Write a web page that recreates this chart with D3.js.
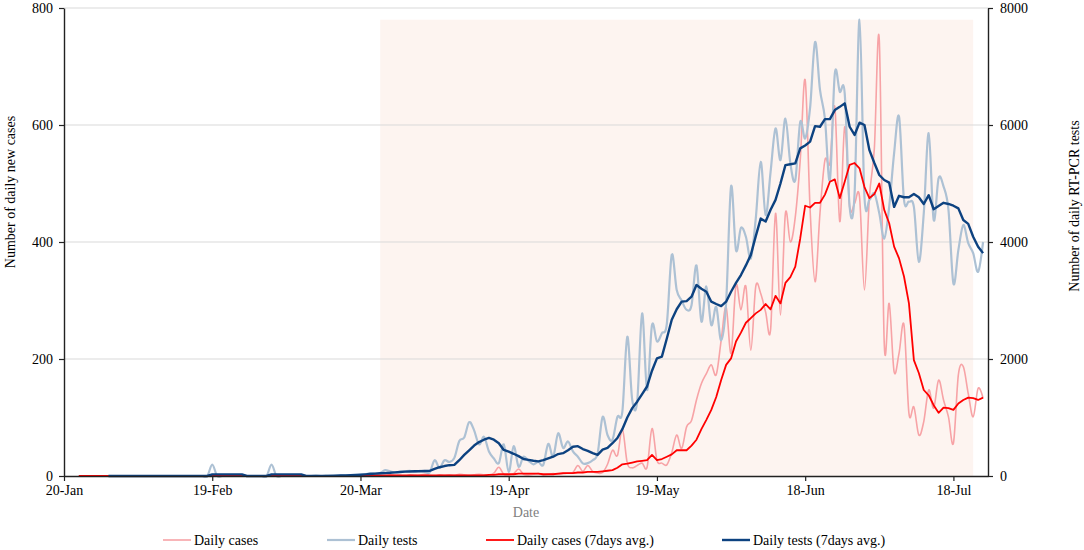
<!DOCTYPE html>
<html>
<head>
<meta charset="utf-8">
<script src="https://cdn.jsdelivr.net/npm/d3@7"></script>
<style>
  body { margin: 0; background: #fff; }
  svg { font-family: "Liberation Serif", "Times New Roman", serif; }
</style>
</head>
<body>
<script>
// Series start on 23-Jan-2020, one value per day up to 24-Jul-2020
const startDay = new Date(2020, 0, 23);
const endDay = new Date(2020, 6, 24);

const dailyCases = [
  // 23-Jan .. 20-Mar
  0,0,0,0,0,0,0,0,0,0, 0,0,0,0,0,0,0,0,0,0, 0,0,0,0,0,0,0,0,0,0,
  0,0,0,0,0,0,0,0,0,0, 0,0,0,0,0,0,0,0,0,0, 0,0,0,0,0,0,0,
  // 20-Mar ..
  1,0,1,2,1,0,2,1,1,0, 2,1,1,3,1,0,2,1,2,1, 3,2,1,2,3,2,
  2,5,15,3,2,4,12,3,2,3, 4,2,3,4,3,4,5,6,18,8,
  18,8,5,6,20,44,35,80,22,14, 18,22,15,81,27,22,19,40,70,47,
  84,95,130,158,175,190,173,232,289,210, 326,284,324,215,324,312,280,250,449,275,
  449,400,443,540,677,455,332,450,540,535, 631,435,597,460,466,477,318,477,560,745,
  227,295,178,210,258,107,118,70,93,147, 116,164,130,101,56,173,187,141,101,150,
  133
];

const dailyTests = [
  0,0,0,0,0,0,0,0,0,0, 0,0,0,0,0,0,0,0,0,0, 0,0,0,0,0,0,0,
  195,0,0,0,0,0,0,0,0,0, 0,0,
  195,0,0,0,0,5,0,0,0,5, 0,5,10,5,10,10,15,15,
  20,30,50,40,50,100,80,60,70,80, 90,70,90,70,60,270,140,270,240,310,
  600,660,920,780,540,670,420,300,220,540, 70,510,160,330,260,200,240,190,550,330,
  730,480,590,420,330,215,220,270,390,1010, 700,620,1010,1100,2380,1300,1270,2780,1470,2580,
  2300,2440,2600,3780,3180,3000,2840,2920,3600,2640, 3240,2580,2890,2320,2960,4950,3860,4240,4090,3720,
  4400,5370,4460,5200,5940,5400,6110,5345,5060,6050, 5770,6300,7420,6600,6110,5060,6880,6570,6540,4600,
  4830,7800,4770,4720,4830,4490,4060,4600,5520,6140, 4720,4690,4600,3660,4490,5860,4380,5090,4950,4550,
  3290,3860,4290,3980,3810,3490,4000
];

const casesAvg = [
  0,0,0,0,0,0,0,0,0,0, 0,0,0,0,0,0,0,0,0,0, 0,0,0,0,0,0,0,
  1,1,1,1,1,1,1, 0,0,0,0,0, 1,1,1,1,1,1,1, 0,0,0,0,0,0,0,0,0,0,0,
  1,1,1,1,1,1,1,1,1,1, 1,1,1,1,1,1,1,1,1,1, 1,1,1,1,1,1,
  2,2,3,3,3,3,4,4,4,4, 4,3,3,3,
  4,5,5,5,6,6,7,7,7,8, 9,10,14,20,21,23,25,26,27,36,
  27,29,33,37,44,44,44,52,62,80, 96,113,135,164,190,201,230,245,262,270,
  278,284,294,285,308,295,330,340,358,406, 462,459,467,467,481,503,507,475,503,532,
  535,526,494,475,482,500,455,432,392,372, 341,295,198,176,147,138,121,108,117,116,
  113,124,130,134,133,130,134
];

const testsAvg = [
  null,null,null,null,null,null,
  0,0,0,0,0,0,0,0,0,0, 0,0,0,0,0,0,0,0,0,0, 0,
  28,28,28,28,28,28,28, 0,0,0,0,0, 28,28,28,28,28,28,28, 2,2,2,2,2,2,
  5,8,10,14,18,
  22,27,33,40,46,50,55,62,68,75, 78,80,82,85,88,120,150,170,185,190,
  270,360,440,520,580,620,650,620,560,445, 415,380,340,290,275,260,250,270,300,330,
  375,390,440,500,510,460,430,390,360,450, 480,560,650,800,1000,1160,1270,1400,1530,1800,
  2010,2040,2350,2670,2850,2980,2990,3065,3265,3200, 3150,2980,2940,2905,2980,3150,3300,3435,3600,3780,
  4100,4400,4350,4550,4720,5000,5315,5330,5345,5600, 5650,5715,5980,5970,6100,6100,6255,6310,6370,5970,
  5830,6040,6000,5570,5350,5145,5060,5015,4600,4790, 4765,4765,4820,4765,4650,4800,4560,4615,4670,4650,
  4620,4575,4375,4310,4090,3920,3810
];

// Shaded period and its height (cases axis)
const shadeStart = new Date(2020, 2, 24);
const shadeEnd = new Date(2020, 6, 22);
const shadeTop = 780;

const xTickDates = [
  new Date(2020, 0, 20), new Date(2020, 1, 19), new Date(2020, 2, 20),
  new Date(2020, 3, 19), new Date(2020, 4, 19), new Date(2020, 5, 18),
  new Date(2020, 6, 18)
];
const casesTicks = [0, 200, 400, 600, 800];
const testsTicks = [0, 2000, 4000, 6000, 8000];

const legendItems = [
  { label: "Daily cases", color: "#f7a3a6", width: 1.6, x: 163 },
  { label: "Daily tests", color: "#adc1d4", width: 2.2, x: 327 },
  { label: "Daily cases (7days avg.)", color: "#ff0000", width: 1.8, x: 486 },
  { label: "Daily tests (7days avg.)", color: "#0d4280", width: 2.4, x: 722 },
];

const days = d3.timeDay.range(startDay, d3.timeDay.offset(endDay, 1));

const rows = days.map((day, i) => ({
  date: day,
  cases: dailyCases[i],
  tests: dailyTests[i],
  casesAvg: casesAvg[i],
  testsAvg: testsAvg[i],
}));

const width = 1084;
const height = 550;
const plotLeft = 64, plotRight = 988, plotTop = 8, plotBottom = 476;

const svg = d3
  .select("body")
  .append("svg")
  .attr("width", width)
  .attr("height", height);

// Scales
const x = d3
  .scaleTime()
  .domain([new Date(2020, 0, 20), new Date(2020, 6, 25)])
  .range([plotLeft, plotRight]);

const yCases = d3.scaleLinear().domain([0, 800]).range([plotBottom, plotTop]);
const yTests = d3.scaleLinear().domain([0, 8000]).range([plotBottom, plotTop]);

// Shaded period
svg
  .append("rect")
  .attr("x", x(shadeStart))
  .attr("y", yCases(shadeTop))
  .attr("width", x(shadeEnd) - x(shadeStart))
  .attr("height", yCases(0) - yCases(shadeTop))
  .attr("fill", "#fdf4f0");

// Gridlines
svg
  .append("g")
  .selectAll("line")
  .data(casesTicks.slice(1))
  .enter()
  .append("line")
  .attr("x1", plotLeft)
  .attr("x2", plotRight)
  .attr("y1", (d) => yCases(d))
  .attr("y2", (d) => yCases(d))
  .attr("stroke", "#d9d9d9")
  .attr("stroke-width", 1);

// Lines
const smooth = d3.curveCatmullRom.alpha(0);

const series = [
  { key: "cases", y: yCases, curve: smooth, item: legendItems[0] },
  { key: "tests", y: yTests, curve: smooth, item: legendItems[1] },
  { key: "casesAvg", y: yCases, curve: d3.curveLinear, item: legendItems[2] },
  { key: "testsAvg", y: yTests, curve: d3.curveLinear, item: legendItems[3] },
];

series.forEach((s) => {
  const line = d3
    .line()
    .defined((d) => d[s.key] != null)
    .x((d) => x(d.date))
    .y((d) => s.y(d[s.key]))
    .curve(s.curve);

  svg
    .append("path")
    .datum(rows)
    .attr("fill", "none")
    .attr("stroke", s.item.color)
    .attr("stroke-width", s.item.width)
    .attr("stroke-linejoin", "round")
    .attr("d", line);
});

// Axes
const xAxis = d3
  .axisBottom(x)
  .tickValues(xTickDates)
  .tickFormat(d3.timeFormat("%-d-%b"))
  .tickSize(5)
  .tickPadding(4)
  .tickSizeOuter(0);

const yAxisLeft = d3
  .axisLeft(yCases)
  .tickValues(casesTicks)
  .tickFormat(d3.format("d"))
  .tickSize(5)
  .tickPadding(6)
  .tickSizeOuter(0);

const yAxisRight = d3
  .axisRight(yTests)
  .tickValues(testsTicks)
  .tickFormat(d3.format("d"))
  .tickSize(5)
  .tickPadding(7)
  .tickSizeOuter(0);

function styleAxis(g) {
  g.select(".domain").attr("stroke", "#222").attr("stroke-width", 1.4);
  g.selectAll(".tick line").attr("stroke", "#222").attr("stroke-width", 1.2);
  g.selectAll(".tick text")
    .attr("fill", "#000")
    .style("font-family", "Liberation Serif")
    .style("font-size", "14px");
}

svg
  .append("g")
  .attr("transform", `translate(0, ${plotBottom})`)
  .call(xAxis)
  .call(styleAxis);

svg
  .append("g")
  .attr("transform", `translate(${plotLeft}, 0)`)
  .call(yAxisLeft)
  .call(styleAxis);

svg
  .append("g")
  .attr("transform", `translate(${plotRight}, 0)`)
  .call(yAxisRight)
  .call(styleAxis);

// Axis titles
svg
  .append("text")
  .attr("transform", "translate(15, 192) rotate(-90)")
  .attr("text-anchor", "middle")
  .style("font-size", "14px")
  .text("Number of daily new cases");

svg
  .append("text")
  .attr("transform", "translate(1079, 206) rotate(-90)")
  .attr("text-anchor", "middle")
  .style("font-size", "14px")
  .text("Number of daily RT-PCR tests");

svg
  .append("text")
  .attr("x", 526)
  .attr("y", 517)
  .attr("text-anchor", "middle")
  .attr("fill", "#7f7f7f")
  .style("font-size", "14px")
  .text("Date");

// Legend
const legend = svg
  .append("g")
  .selectAll("g")
  .data(legendItems)
  .enter()
  .append("g")
  .attr("transform", (d) => `translate(${d.x}, 540)`);

legend
  .append("line")
  .attr("x1", 0)
  .attr("x2", 28)
  .attr("stroke", (d) => d.color)
  .attr("stroke-width", (d) => d.width);

legend
  .append("text")
  .attr("x", 31)
  .attr("dy", "0.35em")
  .style("font-size", "14px")
  .text((d) => d.label);
</script>
</body>
</html>
